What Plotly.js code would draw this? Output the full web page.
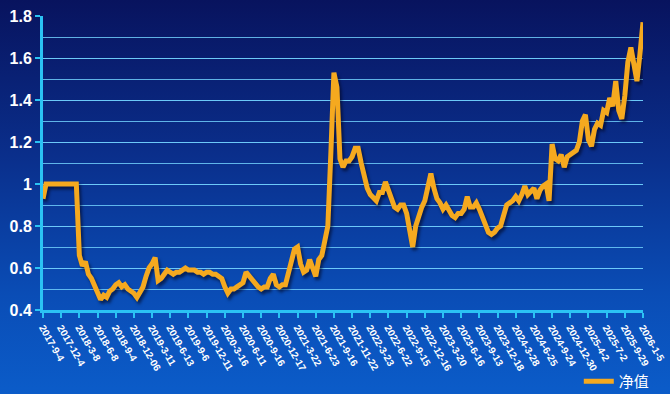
<!DOCTYPE html>
<html>
<head>
<meta charset="utf-8">
<script src="https://cdn.plot.ly/plotly-3.0.1.min.js"></script>
<style>
  html, body { margin:0; padding:0; width:670px; height:394px; overflow:hidden;
    background: linear-gradient(to bottom, #08135e 0%, #0a2f8c 40%, #0a4db6 75%, #0b5cc9 100%); }
  #chart { width:670px; height:394px; }
  #chart .scatterlayer .trace path.js-line { filter: drop-shadow(2px 3px 1.5px rgba(0,0,20,0.55)); }
</style>
</head>
<body>
<div id="chart"></div>
<script>
// Tick labels (every 6th point)
const tickLabels = ["2017-9-4","2017-12-4","2018-3-8","2018-6-8","2018-9-4","2018-12-06","2019-3-11","2019-6-13","2019-9-6","2019-12-11","2020-3-16","2020-6-11","2020-9-16","2020-12-17","2021-3-22","2021-6-23","2021-9-16","2021-11-22","2022-3-23","2022-6-22","2022-9-15","2022-12-16","2023-3-20","2023-6-16","2023-9-13","2023-12-18","2024-3-28","2024-6-25","2024-9-24","2024-12-30","2025-4-2","2025-7-2","2025-9-29","2026-1-5"];
const pointsPerTick = 6;
const seriesName = "净值";
// NAV values
const navValues = [
  0.93,1.0,1.0,1.0,1.0,1.0,1.0,1.0,1.0,1.0,1.0,1.0,
  0.66,0.61,0.63,0.57,0.55,0.52,0.49,0.45,0.47,0.46,0.49,0.50,
  0.52,0.53,0.51,0.52,0.50,0.49,0.48,0.46,0.48,0.51,0.56,0.60,
  0.62,0.65,0.54,0.55,0.57,0.59,0.58,0.57,0.58,0.58,0.59,0.60,
  0.59,0.59,0.59,0.58,0.58,0.57,0.58,0.58,0.57,0.57,0.56,0.55,
  0.51,0.48,0.50,0.50,0.51,0.52,0.53,0.58,0.56,0.54,0.53,0.51,
  0.50,0.51,0.51,0.55,0.57,0.52,0.51,0.52,0.52,0.58,0.64,0.69,
  0.70,0.62,0.58,0.59,0.64,0.60,0.56,0.64,0.66,0.73,0.80,1.15,
  1.53,1.46,1.12,1.08,1.11,1.11,1.13,1.17,1.17,1.10,1.03,0.98,
  0.95,0.93,0.92,0.96,0.96,1.01,0.97,0.92,0.89,0.88,0.90,0.90,
  0.86,0.78,0.70,0.80,0.85,0.89,0.92,0.98,1.05,0.98,0.93,0.91,
  0.88,0.90,0.87,0.85,0.84,0.86,0.86,0.88,0.94,0.89,0.89,0.91,
  0.88,0.84,0.80,0.77,0.76,0.77,0.79,0.80,0.85,0.90,0.91,0.92,
  0.94,0.92,0.95,0.99,0.95,0.97,0.98,0.93,0.97,0.99,1.00,0.92,
  1.19,1.12,1.11,1.14,1.08,1.13,1.14,1.15,1.16,1.20,1.30,1.33,
  1.21,1.18,1.26,1.29,1.28,1.35,1.34,1.41,1.37,1.49,1.35,1.31,
  1.42,1.58,1.65,1.57,1.49,1.62,1.77
];
const yTicks = [0.4,0.6,0.8,1.0,1.2,1.4,1.6,1.8];

const xIdx = navValues.map((_, i) => i);
const tickVals = tickLabels.map((_, i) => i * pointsPerTick);

const axisColor = "#2bc3f4";
const gridColor = "rgba(110,205,250,0.85)";
const fontFamily = "Liberation Sans, Arial, Noto Sans CJK SC, sans-serif";

Plotly.newPlot("chart", [{
  x: xIdx, y: navValues, type: "scatter", mode: "lines", name: seriesName,
  line: { color: "#f5a91f", width: 5, shape: "linear" }
}], {
  width: 670, height: 394,
  margin: { l: 43, r: 27, t: 16, b: 84, autoexpand: false },
  paper_bgcolor: "rgba(0,0,0,0)", plot_bgcolor: "rgba(0,0,0,0)",
  font: { family: fontFamily, color: "#ffffff" },
  showlegend: true,
  legend: { x: 0.893, xanchor: "left", y: -0.243, yanchor: "middle", bgcolor: "rgba(0,0,0,0)",
            font: { size: 15, color: "#ffffff", family: fontFamily } },
  xaxis: {
    type: "linear", range: [0, navValues.length - 1], automargin: false,
    tickmode: "array", tickvals: tickVals, ticktext: tickLabels, tickangle: 60,
    tickfont: { size: 10, color: "#ffffff", family: fontFamily, weight: "bold" },
    showgrid: false, zeroline: false,
    showline: true, linecolor: axisColor, linewidth: 3,
    ticks: "outside", ticklen: 5, tickwidth: 2, tickcolor: axisColor
  },
  yaxis: {
    range: [0.4, 1.8], tickmode: "array", tickvals: yTicks, automargin: false,
    tickfont: { size: 16, color: "#ffffff", family: fontFamily, weight: "bold" },
    showgrid: true, gridcolor: gridColor, gridwidth: 1, zeroline: false,
    showline: true, linecolor: axisColor, linewidth: 3,
    ticks: "outside", ticklen: 5, tickwidth: 2, tickcolor: axisColor,
    minor: { dtick: 0.1, tick0: 0.4, showgrid: true, gridcolor: gridColor, gridwidth: 1, ticks: "" }
  }
}, { displayModeBar: false, staticPlot: true });
</script>
</body>
</html>
